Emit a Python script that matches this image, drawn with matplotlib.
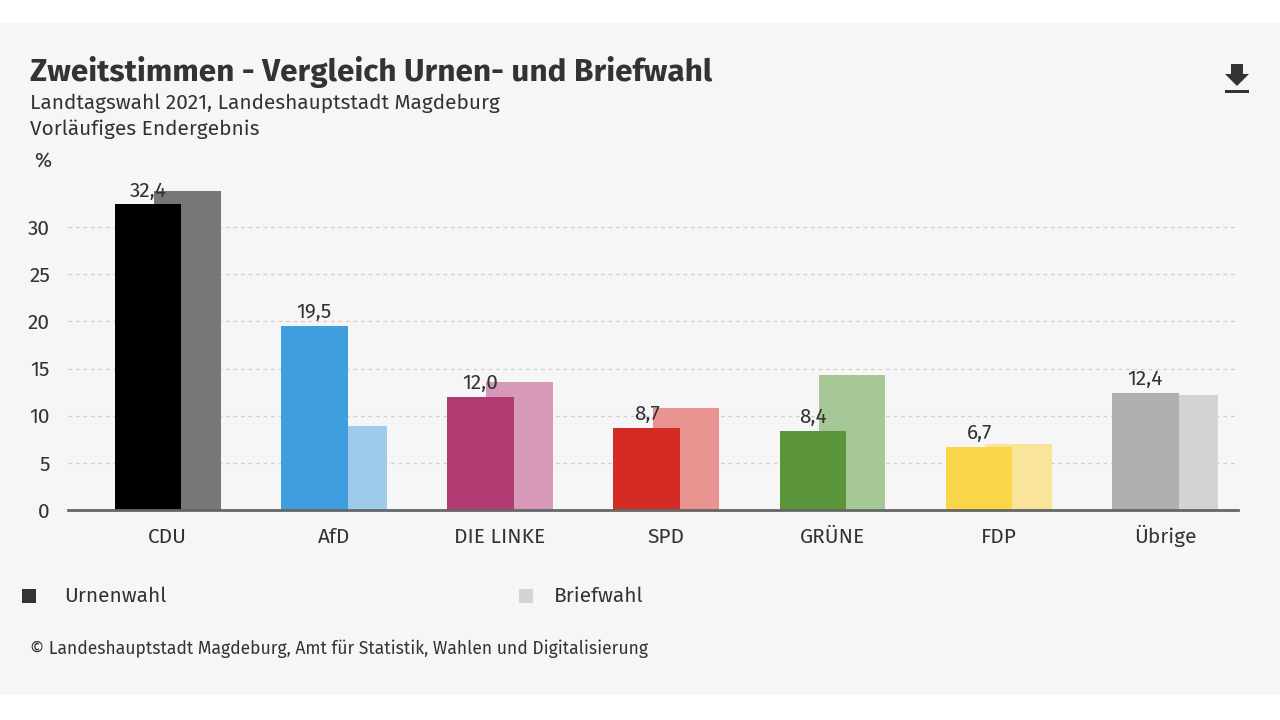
import matplotlib.pyplot as plt
from matplotlib.patches import Polygon, Rectangle
import numpy as np

parties = ['CDU', 'AfD', 'DIE LINKE', 'SPD', 'GRÜNE', 'FDP', 'Übrige']
urnenwahl = [32.4, 19.5, 12.0, 8.7, 8.4, 6.7, 12.4]
briefwahl = [33.8, 8.9, 13.6, 10.8, 14.3, 7.0, 12.2]
col_urne = ['#000000', '#3f9edd', '#b03a72', '#d42b24', '#5a953a', '#f8d647', '#b0b0b0']
col_brief = ['#777777', '#9ecbec', '#d69ab8', '#e99490', '#a6c897', '#f9e59a', '#d4d4d4']
yticks = [0, 5, 10, 15, 20, 25, 30]

plt.rcParams['font.family'] = ['Fira Sans', 'Open Sans', 'DejaVu Sans']
txt = '#333333'
bg = '#f6f6f6'

fig = plt.figure(figsize=(12.8, 7.2), dpi=100)
fig.patch.set_facecolor('white')
fig.patches.append(Rectangle((0, 25/720), 1, 672/720, transform=fig.transFigure,
                             facecolor=bg, edgecolor='none', zorder=-10))

ax = fig.add_axes([68/1280, 1-510/720, 1170/1280, 0.4715])
ax.set_facecolor('none')

x = np.arange(len(parties))
w = 0.4
off = 0.118
ax.bar(x + off, briefwahl, w, color=col_brief, zorder=2)
ax.bar(x - off, urnenwahl, w, color=col_urne, zorder=3)
for xi, v in zip(x, urnenwahl):
    ax.text(xi - off, v + 0.4, f'{v:.1f}'.replace('.', ','), ha='center', va='bottom',
            fontsize=15, color=txt, zorder=4)

ax.set_xlim(-0.6, 6.44)
ax.set_ylim(0, 36)
ax.set_yticks(yticks)
ax.set_yticklabels([str(t) for t in yticks], fontsize=15, color=txt)
ax.set_xticks(x)
ax.set_xticklabels(parties, fontsize=15, color=txt, va='baseline')
ax.tick_params(axis='y', length=0, pad=13)
ax.tick_params(axis='x', length=0, pad=24)
ax.grid(axis='y', color='#cfcfcf', linestyle=(0, (3, 3)), linewidth=0.9, zorder=0)
for s in ['top', 'right', 'left']:
    ax.spines[s].set_visible(False)
ax.spines['bottom'].set_color('#666666')
ax.spines['bottom'].set_linewidth(2)
ax.spines['bottom'].set_zorder(5)

fig.text(30/1280, 1-72/720, 'Zweitstimmen - Vergleich Urnen- und Briefwahl',
         fontsize=22.7, fontweight='bold', color=txt, va='center')
fig.text(30/1280, 1-103/720, 'Landtagswahl 2021, Landeshauptstadt Magdeburg',
         fontsize=15, color=txt, va='center')
fig.text(30/1280, 1-129/720, 'Vorläufiges Endergebnis',
         fontsize=15, color=txt, va='center')
fig.text(34/1280, 1-162/720, '%', fontsize=15, color=txt, va='center')

# legend
fig.patches.append(Rectangle((22/1280, 1-603/720), 14/1280, 14/720, transform=fig.transFigure,
                             facecolor='#333333', edgecolor='none'))
fig.text(64/1280, 1-596/720, 'Urnenwahl', fontsize=15, color=txt, va='center')
fig.patches.append(Rectangle((519/1280, 1-603/720), 14/1280, 14/720, transform=fig.transFigure,
                             facecolor='#d4d4d4', edgecolor='none'))
fig.text(554/1280, 1-596/720, 'Briefwahl', fontsize=15, color=txt, va='center')

fig.text(30/1280, 1-649/720, '© Landeshauptstadt Magdeburg, Amt für Statistik, Wahlen und Digitalisierung',
         fontsize=12.6, color=txt, va='center')

# download icon
arrow = [(1231, 64), (1243, 64), (1243, 74), (1249, 74), (1237, 86), (1225, 74), (1231, 74)]
fig.patches.append(Polygon([(px/1280, 1-py/720) for px, py in arrow], closed=True,
                           transform=fig.transFigure, facecolor='#333333', edgecolor='none'))
fig.patches.append(Rectangle((1225/1280, 1-93/720), 24/1280, 3/720, transform=fig.transFigure,
                             facecolor='#333333', edgecolor='none'))

fig.savefig('out.png', dpi=100, facecolor=fig.get_facecolor())
